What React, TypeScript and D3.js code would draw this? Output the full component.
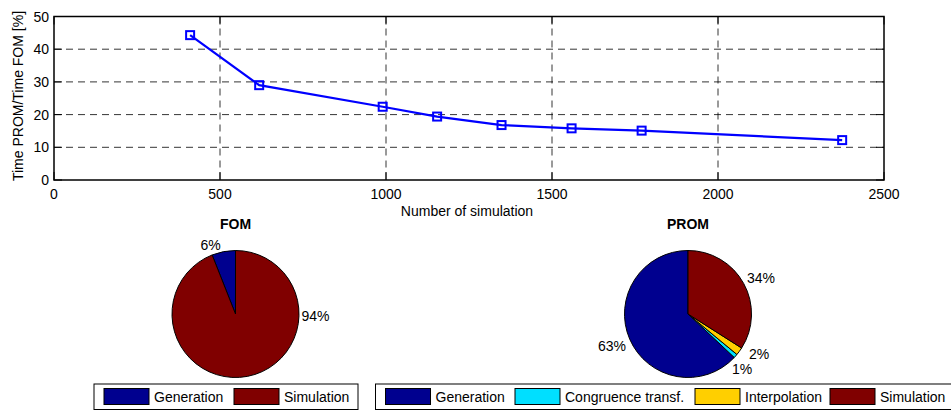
import React from "react";
import * as d3 from "d3";

// ---- data ----
const simCounts = [410, 618, 990, 1154, 1348, 1559, 1770, 2374];
const timeRatio = [44.3, 29.0, 22.4, 19.4, 16.8, 15.8, 15.1, 12.2];
const xTicks = [0, 500, 1000, 1500, 2000, 2500];
const yTicks = [0, 10, 20, 30, 40, 50];

const fomCategories = ["Generation", "Simulation"];
const fomValues = [6, 94];
const promCategories = ["Generation", "Congruence transf.", "Interpolation", "Simulation"];
const promValues = [63, 1, 2, 34];

const colorMap: Record<string, string> = {
  Generation: "#00008F",
  "Congruence transf.": "#00DFFF",
  Interpolation: "#FFCF00",
  Simulation: "#800000",
};

// label offsets relative to pie centre (layout)
const fomLabelOffsets = [[-25, -69], [80, 2]];
const promLabelOffsets = [[-76, 32], [54, 55], [71, 40], [73, -36]];

const FONT = "'Liberation Sans', Arial, Helvetica, sans-serif";

function Pie({ cx, cy, r, values, cats, offsets, title }: any) {
  const pie = d3.pie<number>().sort(null).startAngle(0).endAngle(-2 * Math.PI);
  const arcs = pie(values);
  const arc = d3.arc<any>().innerRadius(0).outerRadius(r);
  return (
    <g>
      <text x={cx} y={cy - 90} textAnchor="middle" dominantBaseline="central" fontWeight="bold" fontSize={14} fontFamily={FONT}>
        {title}
      </text>
      <g transform={`translate(${cx},${cy})`}>
        {arcs.map((a, i) => (
          <path key={i} d={arc(a) as string} fill={colorMap[cats[i]]} stroke="#000" strokeWidth={1} strokeLinejoin="round" />
        ))}
        {arcs.map((a, i) => (
          <text key={"t" + i} x={offsets[i][0]} y={offsets[i][1]} textAnchor="middle" dominantBaseline="central" fontSize={14} fontFamily={FONT} fill="#000">
            {Math.round(values[i])}%
          </text>
        ))}
      </g>
    </g>
  );
}

function Legend({ x, y, w, h, cats, swatchX, swatchW }: any) {
  return (
    <g>
      <rect x={x} y={y} width={w} height={h} fill="#fff" stroke="#000" strokeWidth={1} />
      {cats.map((c: string, i: number) => (
        <g key={c}>
          <rect x={swatchX[i]} y={y + 4.5} width={swatchW} height={16} fill={colorMap[c]} stroke="#000" strokeWidth={1} />
          <text x={swatchX[i] + swatchW + 5} y={y + 13} dominantBaseline="central" fontSize={14} fontFamily={FONT} fill="#000">
            {c}
          </text>
        </g>
      ))}
    </g>
  );
}

export default function App() {
  const W = 951, H = 411;
  const left = 54, right = 884, top = 16.5, bottom = 180;
  const x = d3.scaleLinear().domain([0, 2500]).range([left, right]);
  const y = d3.scaleLinear().domain([0, 50]).range([bottom, top]);
  const line = d3.line<number>().x((_, i) => x(simCounts[i])).y((d) => y(d));

  return (
    <svg width={W} height={H} style={{ position: "absolute", left: 0, top: 0, background: "#fff" }} fontFamily={FONT}>
      <rect width={W} height={H} fill="#fff" />
      {/* grid */}
      {xTicks.slice(1, -1).map((t) => (
        <line key={"gx" + t} x1={x(t)} x2={x(t)} y1={top} y2={bottom} stroke="#000" strokeWidth={0.8} strokeDasharray="7,5" />
      ))}
      {yTicks.slice(1, -1).map((t) => (
        <line key={"gy" + t} x1={left} x2={right} y1={y(t)} y2={y(t)} stroke="#000" strokeWidth={0.8} strokeDasharray="7,5" />
      ))}
      {/* ticks */}
      {yTicks.map((t) => (
        <g key={"ty" + t}>
          <line x1={left} x2={left + 8} y1={y(t)} y2={y(t)} stroke="#000" strokeWidth={1} />
          <line x1={right} x2={right - 8} y1={y(t)} y2={y(t)} stroke="#000" strokeWidth={1} />
          <text x={left - 5} y={y(t)} textAnchor="end" dominantBaseline="central" fontSize={14}>{t}</text>
        </g>
      ))}
      {xTicks.map((t) => (
        <g key={"tx" + t}>
          <line x1={x(t)} x2={x(t)} y1={bottom} y2={bottom - 8} stroke="#000" strokeWidth={1} />
          <line x1={x(t)} x2={x(t)} y1={top} y2={top + 8} stroke="#000" strokeWidth={1} />
          <text x={x(t)} y={199} textAnchor="middle" fontSize={14}>{t}</text>
        </g>
      ))}
      <rect x={left} y={top} width={right - left} height={bottom - top} fill="none" stroke="#000" strokeWidth={1.5} />
      {/* series */}
      <path d={line(timeRatio) as string} fill="none" stroke="#0000FF" strokeWidth={2.2} />
      {timeRatio.map((v, i) => (
        <rect key={"m" + i} x={x(simCounts[i]) - 4} y={y(v) - 4} width={8} height={8} fill="none" stroke="#0000FF" strokeWidth={2} />
      ))}
      <text x={(left + right) / 2 - 2} y={216} textAnchor="middle" fontSize={14}>Number of simulation</text>
      <text transform={`translate(23,96) rotate(-90)`} textAnchor="middle" fontSize={14}>Time PROM/Time FOM [%]</text>

      <Pie cx={235.5} cy={314} r={63.5} values={fomValues} cats={fomCategories} offsets={fomLabelOffsets} title="FOM" />
      <Pie cx={688} cy={314} r={63.5} values={promValues} cats={promCategories} offsets={promLabelOffsets} title="PROM" />

      <Legend x={94} y={384} w={264} h={25.5} cats={fomCategories} swatchX={[104, 234]} swatchW={45} />
      <Legend x={375.5} y={384} w={580} h={25.5} cats={promCategories} swatchX={[385.5, 515, 695, 830]} swatchW={45} />
    </svg>
  );
}
